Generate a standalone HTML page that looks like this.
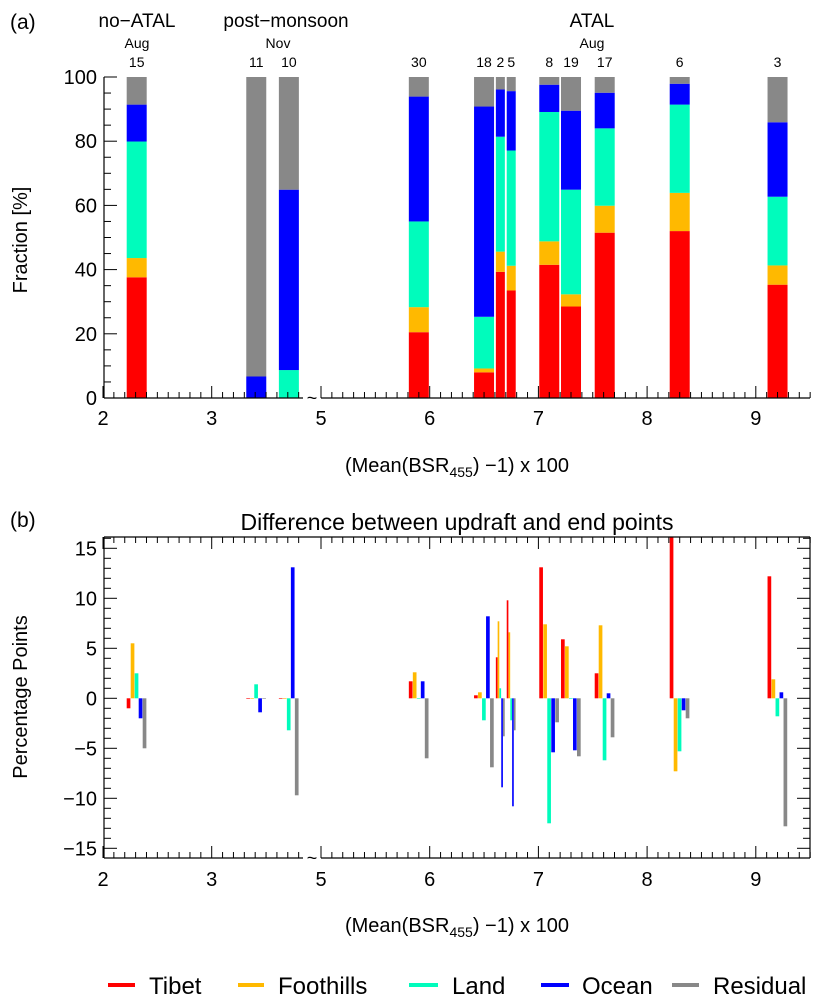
<!DOCTYPE html>
<html><head><meta charset="utf-8">
<style>
body{margin:0;background:#fff;}
svg{display:block;font-family:"Liberation Sans Narrow","Liberation Sans",Arial,sans-serif;}
</style></head>
<body>
<svg id="chart" width="823" height="1000" viewBox="0 0 823 1000" xmlns="http://www.w3.org/2000/svg">
<text x="10" y="29" font-size="21">(a)</text>
<text x="137" y="27" font-size="19" text-anchor="middle">no−ATAL</text>
<text x="286" y="27" font-size="19" text-anchor="middle">post−monsoon</text>
<text x="592" y="27" font-size="19" text-anchor="middle">ATAL</text>
<text x="137" y="48" font-size="14" text-anchor="middle">Aug</text>
<text x="278" y="48" font-size="14" text-anchor="middle">Nov</text>
<text x="592" y="48" font-size="14" text-anchor="middle">Aug</text>
<g id="topG"></g>
<text transform="translate(27,240) rotate(-90)" font-size="20" text-anchor="middle">Fraction [%]</text>
<text x="457" y="472" font-size="20" text-anchor="middle">(Mean(BSR<tspan font-size="14" dy="5">455</tspan><tspan dy="-5">) −1) x 100</tspan></text>
<text x="10" y="527" font-size="21">(b)</text>
<text x="457" y="530" font-size="23" text-anchor="middle">Difference between updraft and end points</text>
<g id="botG"></g>
<text transform="translate(27,697) rotate(-90)" font-size="20" text-anchor="middle">Percentage Points</text>
<text x="457" y="932" font-size="20" text-anchor="middle">(Mean(BSR<tspan font-size="14" dy="5">455</tspan><tspan dy="-5">) −1) x 100</tspan></text>
<g>
<g><line x1="108" y1="985" x2="135" y2="985" stroke="#ff0000" stroke-width="4"/><text x="149" y="994" font-size="24">Tibet</text></g>
<g><line x1="238" y1="985" x2="264" y2="985" stroke="#ffb900" stroke-width="4"/><text x="278" y="994" font-size="24">Foothills</text></g>
<g><line x1="409" y1="985" x2="438" y2="985" stroke="#00fcbc" stroke-width="4"/><text x="452" y="994" font-size="24">Land</text></g>
<g><line x1="541" y1="985" x2="569" y2="985" stroke="#0000ff" stroke-width="4"/><text x="582" y="994" font-size="24">Ocean</text></g>
<g><line x1="672" y1="985" x2="699" y2="985" stroke="#888888" stroke-width="4"/><text x="713" y="994" font-size="24">Residual</text></g>
</g>
</svg>
<script>
// ---- data ----
const xValues = [2.31, 3.41, 3.71, 5.90, 6.50, 6.65, 6.75, 7.10, 7.30, 7.61, 8.30, 9.20];
const caseLabels = ["15","11","10","30","18","2","5","8","19","17","6","3"];
const tibetFrac =     [37.6, 0,   0,   20.5, 8.0,  39.3, 33.5, 41.5, 28.5, 51.5, 52.0, 35.3];
const foothillsFrac = [6.0,  0,   0,   7.8,  1.2,  6.3,  7.7,  7.3,  3.8,  8.4,  11.9, 6.0];
const landFrac =      [36.3, 0,   8.7, 26.7, 16.1, 35.8, 35.9, 40.3, 32.6, 24.1, 27.5, 21.4];
const oceanFrac =     [11.5, 6.7, 56.2,38.9, 65.5, 14.7, 18.5, 8.5,  24.6, 11.1, 6.5,  23.2];
const tibetDiff =     [-1.0, -0.05,-0.05,1.7, 0.3,  4.1,  9.8,  13.1, 5.9,  2.5,  16.5, 12.2];
const foothillsDiff = [5.5,  0,   0,   2.6,  0.6,  7.7,  6.6,  7.4,  5.2,  7.3,  -7.3, 1.9];
const landDiff =      [2.5,  1.4, -3.2,0,    -2.2, 1.0,  -2.2, -12.5,0,    -6.2, -5.3, -1.8];
const oceanDiff =     [-2.0, -1.4,13.1,1.7,  8.2,  -8.9, -10.8,-5.4, -5.2, 0.5,  -1.2, 0.6];
const residualDiff =  [-5.0, 0,   -9.7,-6.0, -6.9, -3.8, -3.2, -2.4, -5.8, -3.9, -2.0, -12.8];
const narrowBar = [false,false,false,false,false,true,true,false,false,false,false,false];
const xTickLabels = ["2","3","5","6","7","8","9"];
const xTickValues = [2,3,5,6,7,8,9];
const yTopTicks = [0,20,40,60,80,100];
const yBotTicks = [-15,-10,-5,0,5,10,15];
// ---- styles / scales ----
const colors = ["#ff0000","#ffb900","#00fcbc","#0000ff","#888888"];
const NS = "http://www.w3.org/2000/svg";
const PX = 108.7;
function xs(v){ return v < 4.5 ? 103 + (v-2)*PX : 321 + (v-5)*PX; }
function ya(p){ return 398 - p*3.21; }
const Y0 = 698.3, YT = 537, YB = 858;
function yb(v){ return Math.max(YT, Math.min(YB, Y0 - v*10)); }
function mk(tag, attrs, parent){ const e=document.createElementNS(NS,tag); for(const k in attrs) e.setAttribute(k,attrs[k]); parent.appendChild(e); return e; }
const topG = document.getElementById('topG');
const botG = document.getElementById('botG');
const seriesNames = ["tibet","foothills","land","ocean","residual"];

// top bars
xValues.forEach((v,i)=>{
  const w = narrowBar[i] ? 9 : 20;
  const cx = xs(v);
  const vals = [tibetFrac[i], foothillsFrac[i], landFrac[i], oceanFrac[i]];
  const s = vals.reduce((a,b)=>a+b,0);
  vals.push(100 - s);
  let cum = 0;
  vals.forEach((val,k)=>{
    if(val<=0) return;
    const r = mk('rect',{x:cx-w/2,y:ya(cum+val),width:w,height:ya(cum)-ya(cum+val),fill:colors[k]},topG);
    
    
    cum += val;
  });
  const t = mk('text',{x:cx,y:67,'font-size':14,'text-anchor':'middle'},topG);
  t.textContent = caseLabels[i];
  
  
});

function xAxis(g, y, dir, withLabels, labelY){
  mk('line',{x1:104,y1:y,x2:303,y2:y,stroke:'#000','stroke-width':1.2},g);
  mk('line',{x1:321,y1:y,x2:810,y2:y,stroke:'#000','stroke-width':1.2},g);
  for(let t=20;t<=38;t++){ const v=t/10; const x=xs(v); const L=(t%10===0)?12:6; mk('line',{x1:x,y1:y,x2:x,y2:y+dir*L,stroke:'#000','stroke-width':1},g); }
  for(let t=50;t<=95;t++){ const v=t/10; const x=xs(v); const L=(t%10===0)?12:6; mk('line',{x1:x,y1:y,x2:x,y2:y+dir*L,stroke:'#000','stroke-width':1},g); }
  if(withLabels){
    xTickLabels.forEach((lab,i)=>{
      const t=mk('text',{x:xs(xTickValues[i]),y:labelY,'font-size':20,'text-anchor':'middle'},g);
      t.textContent=lab;
      
      
    });
  }
}
// top axes
mk('line',{x1:104,y1:77,x2:104,y2:398,stroke:'#000','stroke-width':1.2},topG);
for(let p=0;p<=100;p+=5){ const L=(p%20===0)?13:7; mk('line',{x1:104,y1:ya(p),x2:104+L,y2:ya(p),stroke:'#000','stroke-width':1},topG); }
yTopTicks.forEach(p=>{ const t=mk('text',{x:97,y:ya(p)+7,'font-size':20,'text-anchor':'end'},topG); t.textContent=String(p);
  
   });
xAxis(topG,398,-1,true,425);
const tl=mk('text',{x:312,y:404,'font-size':18,'text-anchor':'middle'},topG); tl.textContent='~';

// bottom bars
const diffs=[tibetDiff,foothillsDiff,landDiff,oceanDiff,residualDiff];
xValues.forEach((v,i)=>{
  const w = narrowBar[i] ? 9 : 20;
  const sw = w/5;
  const left = xs(v)-w/2;
  diffs.forEach((arr,k)=>{
    const val=arr[i];
    const y1=yb(Math.max(val,0)), y2=yb(Math.min(val,0));
    const r=mk('rect',{x:left+k*sw,y:y1,width:sw*0.92,height:Math.max(y2-y1,0.6),fill:colors[k]},botG);
    
    
  });
});
mk('line',{x1:104,y1:YT,x2:810,y2:YT,stroke:'#000','stroke-width':1.2},botG);
mk('line',{x1:104,y1:YT,x2:104,y2:YB,stroke:'#000','stroke-width':1.2},botG);
mk('line',{x1:810,y1:YT,x2:810,y2:YB,stroke:'#000','stroke-width':1.2},botG);
for(let t=20;t<=95;t++){ const v=t/10; if(v>3.8&&v<5) continue; const x=xs(v); const L=(t%10===0)?12:6; mk('line',{x1:x,y1:YT,x2:x,y2:YT+L,stroke:'#000','stroke-width':1},botG); }
for(let v=-15;v<=16;v++){ const y=Y0-v*10; if(y<YT||y>YB) continue; const L=(v%5===0)?13:7;
  mk('line',{x1:104,y1:y,x2:104+L,y2:y,stroke:'#000','stroke-width':1},botG);
  mk('line',{x1:810,y1:y,x2:810-L,y2:y,stroke:'#000','stroke-width':1},botG); }
yBotTicks.forEach(v=>{ const t=mk('text',{x:97,y:Y0-v*10+7,'font-size':20,'text-anchor':'end'},botG); t.textContent=(v<0?'−'+(-v):String(v));
  
   });
xAxis(botG,YB,-1,true,886);
const tl2=mk('text',{x:312,y:864,'font-size':18,'text-anchor':'middle'},botG); tl2.textContent='~';
</script>
</body></html>
